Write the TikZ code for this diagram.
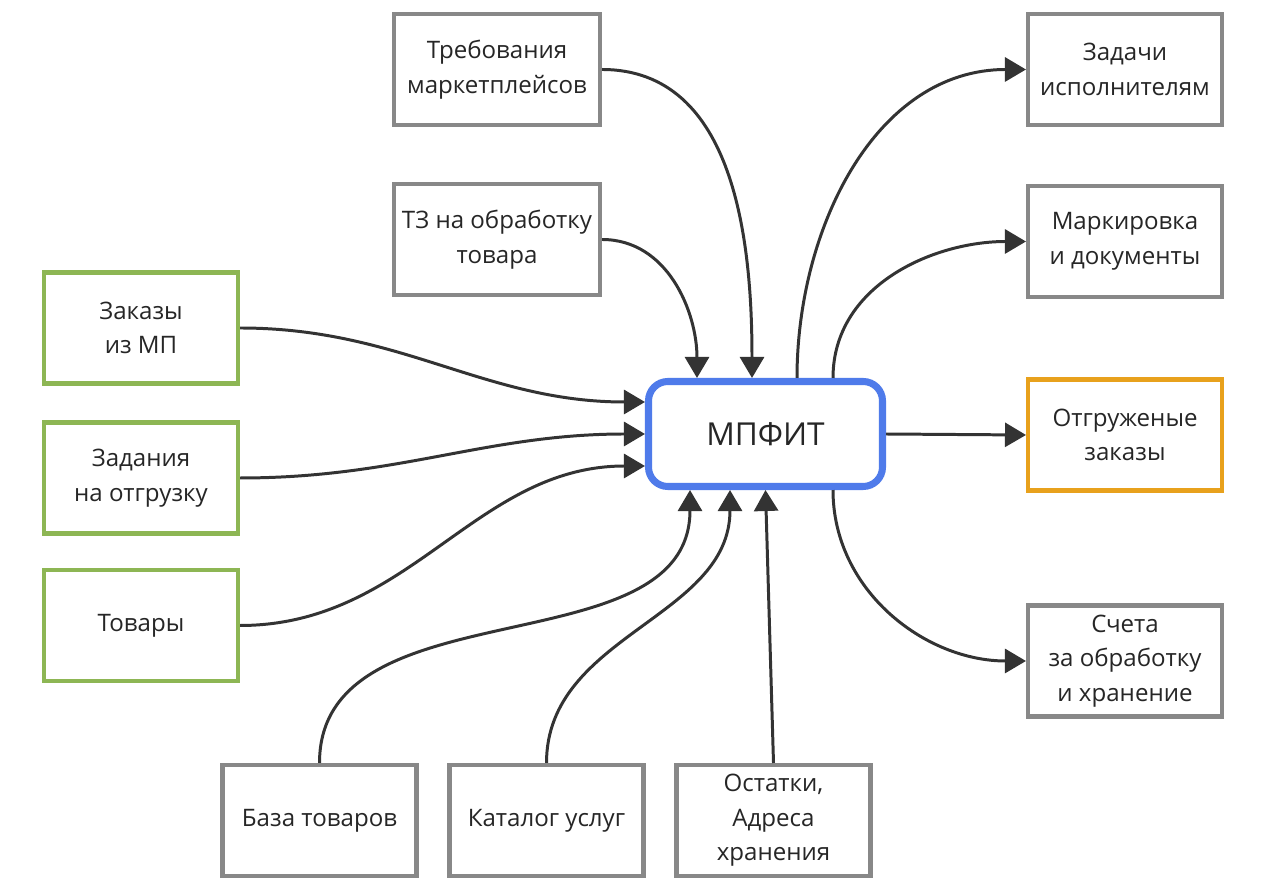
\documentclass[tikz,border=0pt]{standalone}
\usepackage{fontspec}
\setmainfont{Open Sans}
\usepackage{tikz}
\usetikzlibrary{calc,arrows.meta,positioning}
\definecolor{linex}{HTML}{333333}
\definecolor{grayx}{HTML}{888888}
\definecolor{greenx}{HTML}{8DB654}
\definecolor{orangex}{HTML}{E8A11C}
\definecolor{bluex}{HTML}{4F7BEA}
\tikzset{
  ar/.style={-{Triangle[length=4.2mm,width=4.8mm]},line width=1.7pt,linex},
  box/.style={draw=grayx,line width=2.3pt,fill=white,minimum width=38.8mm,minimum height=22.2mm,align=center,
    font=\fontsize{13.7}{19.6}\selectfont,text=black!85},
  inbox/.style={box,draw=greenx},
  outbox/.style={box,draw=orangex},
  core/.style={draw=bluex,line width=4pt,rounded corners=11pt,fill=white,minimum width=46.8mm,minimum height=21mm,
    font=\fontsize{18}{21}\selectfont,text=black!85}
}
\begin{document}
\begin{tikzpicture}
\useasboundingbox (0,0) rectangle (25.6,17.72);
\node[core] (mpfit) at (15.31,9.04) {МПФИТ};
% top
\node[box,minimum width=41.2mm] (treb) at (9.94,16.33) {Требования\\маркетплейсов};
\node[box,minimum width=41.2mm] (tz) at (9.94,12.93) {ТЗ на обработку\\товара};
% left
\node[inbox] (zakazy) at (2.82,11.16) {Заказы\\из МП};
\node[inbox] (zadaniya) at (2.82,8.16) {Задания\\на отгрузку};
\node[inbox] (tovary) at (2.82,5.21) {Товары};
% bottom
\node[box] (baza) at (6.39,1.31) {База товаров};
\node[box] (katalog) at (10.93,1.31) {Каталог услуг};
\node[box] (ostatki) at (15.47,1.31) {Остатки,\\Адреса\\хранения};
% right
\node[box] (zadachi) at (22.5,16.33) {Задачи\\исполнителям};
\node[box] (mark) at (22.5,12.89) {Маркировка\\и документы};
\node[outbox] (otgr) at (22.5,9.02) {Отгруженые\\заказы};
\node[box] (scheta) at (22.5,4.5) {Счета\\за обработку\\и хранение};

\draw[ar] (treb.east) to[out=0,in=90] ([xshift=-0.27cm]mpfit.north);
\draw[ar] (tz.east) to[out=0,in=90] ([xshift=-1.37cm]mpfit.north);
\draw[ar] (zakazy.east) to[out=0,in=180] ([yshift=0.64cm]mpfit.west);
\draw[ar] (zadaniya.east) to[out=0,in=180] (mpfit.west);
\draw[ar] (tovary.east) to[out=0,in=180] ([yshift=-0.64cm]mpfit.west);
\draw[ar] (baza.north) to[out=90,in=-90] ([xshift=-1.51cm]mpfit.south);
\draw[ar] (katalog.north) to[out=90,in=-90] ([xshift=-0.71cm]mpfit.south);
\draw[ar] (ostatki.north) -- (mpfit.south);
\draw[ar] ([xshift=0.63cm]mpfit.north) to[out=90,in=180] (zadachi.west);
\draw[ar] ([xshift=1.35cm]mpfit.north) to[out=90,in=180] (mark.west);
\draw[ar] (mpfit.east) -- (otgr.west);
\draw[ar] ([xshift=1.35cm]mpfit.south) to[out=-90,in=180] (scheta.west);
\end{tikzpicture}
\end{document}
